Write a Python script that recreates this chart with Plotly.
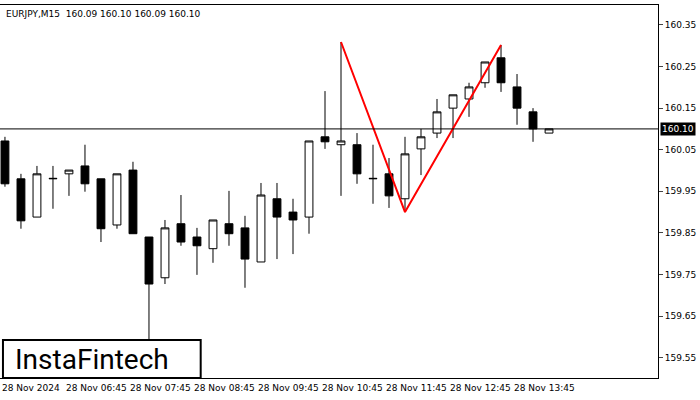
import plotly.graph_objects as go

times = ["05:45","06:00","06:15","06:30","06:45","07:00","07:15","07:30","07:45","08:00","08:15","08:30",
         "08:45","09:00","09:15","09:30","09:45","10:00","10:15","10:30","10:45","11:00","11:15","11:30",
         "11:45","12:00","12:15","12:30","12:45","13:00","13:15","13:30","13:45","14:00","14:15"]
opens = [160.071,159.980,159.888,159.980,159.992,160.011,159.980,159.869,160.001,159.840,159.742,159.872,
         159.840,159.812,159.872,159.862,159.780,159.932,159.900,159.888,160.081,160.062,160.062,159.980,
         159.992,159.932,160.052,160.090,160.150,160.172,160.211,160.271,160.201,160.141,160.090]
highs = [160.081,159.992,160.011,160.011,160.001,160.062,159.980,159.992,160.021,159.840,159.881,159.941,
         159.862,159.881,159.951,159.891,159.970,159.970,159.932,160.071,160.191,160.309,160.090,160.062,
         160.030,160.081,160.100,160.172,160.182,160.211,160.261,160.302,160.232,160.150,160.100]
lows = [159.961,159.860,159.888,159.908,159.939,159.949,159.828,159.860,159.848,159.590,159.727,159.819,
        159.749,159.778,159.819,159.718,159.780,159.787,159.799,159.848,160.052,159.939,159.968,159.920,
        159.910,159.900,159.989,160.078,160.078,160.129,160.199,160.189,160.110,160.069,160.090]
closes = [159.968,159.879,159.992,159.981,160.001,159.968,159.860,159.992,159.848,159.727,159.862,159.828,
          159.819,159.881,159.848,159.787,159.941,159.888,159.881,160.071,160.069,160.071,159.992,159.981,
          159.939,160.040,160.081,160.141,160.182,160.201,160.261,160.211,160.150,160.100,160.100]
pattern_idx = [21, 25, 31]
pattern_price = [160.309, 159.900, 160.302]
tick_idx = [0, 4, 8, 12, 16, 20, 24, 28, 32]
tick_text = ["28 Nov 2024","28 Nov 06:45","28 Nov 07:45","28 Nov 08:45","28 Nov 09:45",
             "28 Nov 10:45","28 Nov 11:45","28 Nov 12:45","28 Nov 13:45"]
y_ticks = [159.55,159.65,159.75,159.85,159.95,160.05,160.15,160.25,160.35]
current = 160.10

FONT = "DejaVu Sans"
x = list(range(len(times)))
fig = go.Figure()
fig.add_trace(go.Candlestick(x=x, open=opens, high=highs, low=lows, close=closes,
    increasing=dict(line=dict(color="black", width=1), fillcolor="white"),
    decreasing=dict(line=dict(color="black", width=1), fillcolor="black"),
    whiskerwidth=0, showlegend=False, hoverinfo="skip"))
fig.add_trace(go.Scatter(x=pattern_idx, y=pattern_price, mode="lines",
    line=dict(color="#ff0000", width=2), showlegend=False, hoverinfo="skip"))
fig.add_hline(y=current, line=dict(color="black", width=1))

for i, t in zip(tick_idx, tick_text):
    fig.add_annotation(x=i - 0.3, y=0, yref="paper", yanchor="top", xanchor="left", yshift=-3,
                       text=t, showarrow=False, font=dict(size=9, color="black", family=FONT))
fig.add_annotation(x=1.0, xref="paper", y=current, xanchor="left", xshift=2, text="160.10", showarrow=False,
                   bgcolor="black", font=dict(size=9, color="white", family=FONT), borderpad=1)
fig.add_annotation(x=0, xref="paper", y=1, yref="paper", xanchor="left", yanchor="top", xshift=4, yshift=-2,
                   text="EURJPY,M15  160.09 160.10 160.09 160.10", showarrow=False,
                   font=dict(size=9, color="black", family=FONT))
fig.add_shape(type="rect", xref="paper", yref="paper", x0=0.0045, x1=0.305, y0=0.0, y1=0.102,
              line=dict(color="black", width=2), fillcolor="white", layer="above")
fig.add_annotation(x=0.02, xref="paper", y=0.05, yref="paper", xanchor="left", yanchor="middle",
                   text="InstaFintech", showarrow=False,
                   font=dict(size=28, color="black", family="Roboto"))

fig.update_layout(width=700, height=400, margin=dict(l=0, r=42, t=5, b=22, autoexpand=False),
    paper_bgcolor="white", plot_bgcolor="white",
    xaxis=dict(range=[-0.31, 40.81], showticklabels=False, showgrid=False, rangeslider=dict(visible=False),
               showline=True, linecolor="black", mirror=True, zeroline=False, ticks="", automargin=False),
    yaxis=dict(range=[159.501, 160.398], side="right", tickvals=y_ticks, automargin=False,
               ticktext=[f"{v:.2f}" for v in y_ticks], showgrid=False, showline=True, linecolor="black",
               mirror=True, ticks="outside", ticklen=4, zeroline=False,
               tickfont=dict(size=9, color="black", family=FONT)))
fig.write_html("out.html", config={"displayModeBar": False},
               post_script="document.body.style.margin='0';document.body.style.overflow='hidden';")
